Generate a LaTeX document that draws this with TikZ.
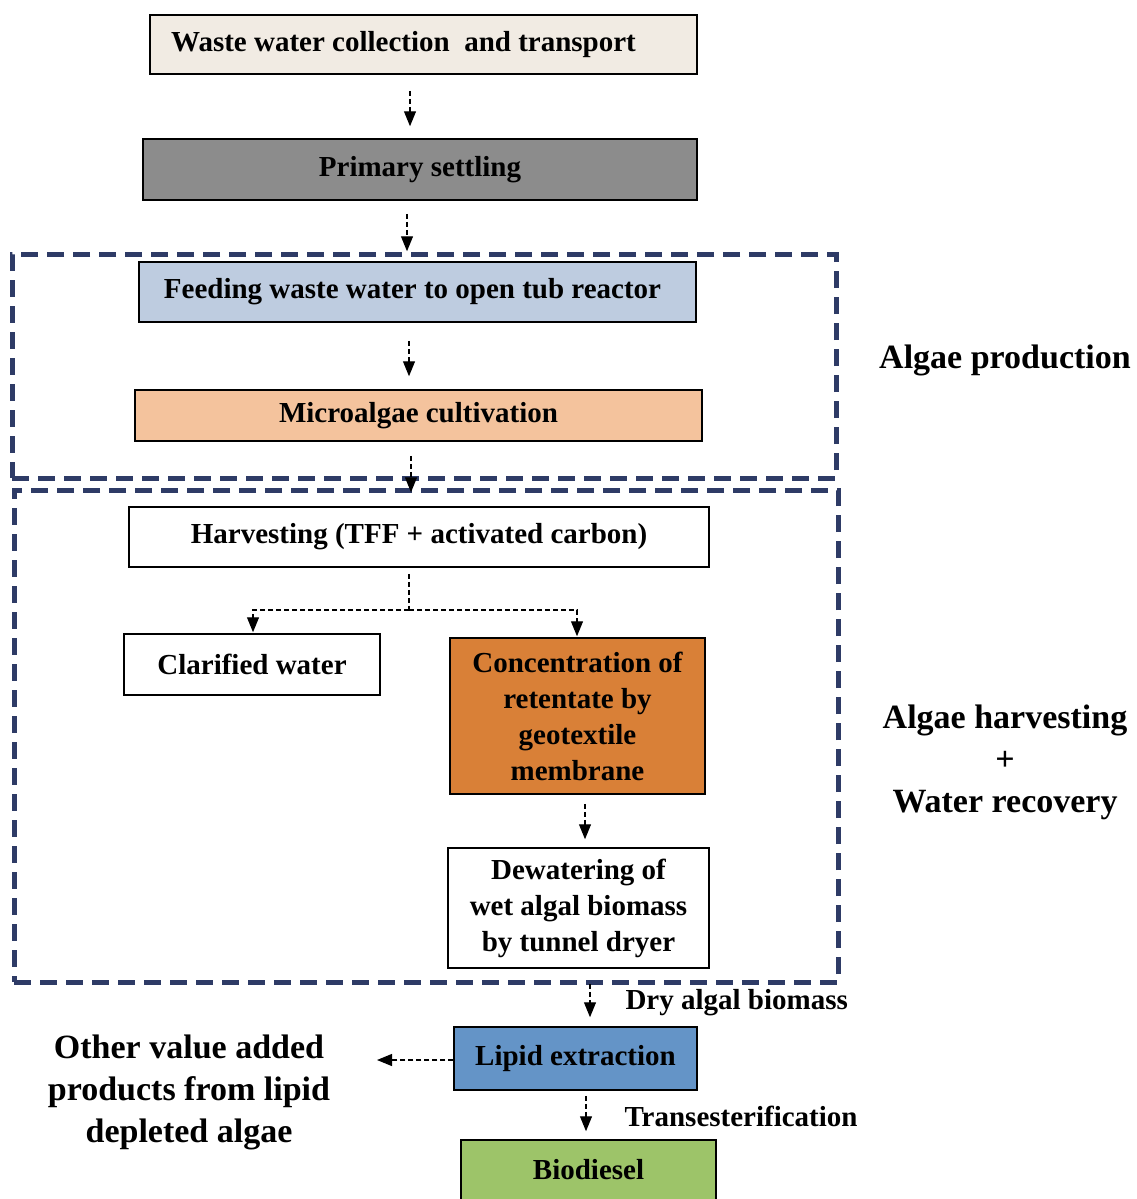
\documentclass[tikz,border=0pt]{standalone}
\usepackage{fontspec}
\setmainfont{Liberation Serif}
\usetikzlibrary{arrows.meta}
\definecolor{navy}{HTML}{2E3B66}
\definecolor{beige}{HTML}{F1EBE3}
\definecolor{gray1}{HTML}{8C8C8C}
\definecolor{paleblue}{HTML}{BECCE0}
\definecolor{peach}{HTML}{F4C39D}
\definecolor{orange1}{HTML}{D98037}
\definecolor{blue1}{HTML}{6494C7}
\definecolor{green1}{HTML}{9DC469}
\begin{document}
\begin{tikzpicture}[x=1pt,y=-1pt,
  box/.style={draw=black, line width=1.5pt, inner sep=0pt, align=center,
    font=\bfseries\fontsize{29}{36}\selectfont},
  group/.style={draw=navy, line width=5pt, dash pattern=on 17pt off 9pt, inner sep=0pt},
  side/.style={align=center, font=\bfseries\fontsize{34}{42}\selectfont},
  lbl/.style={anchor=west, font=\bfseries\fontsize{29}{36}\selectfont},
  dl/.style={dash pattern=on 5pt off 3pt, line width=1.2pt},
  arr/.style={dl, -{Triangle[length=15pt,width=12pt]}}]
\useasboundingbox[fill=white] (0,0) rectangle (1137,1199);

% groups
\node[group, minimum width=824pt, minimum height=224pt] (g1) at (424,366) {};
\node[group, minimum width=824pt, minimum height=492pt] (g2) at (426,736) {};

% boxes
\node[box, fill=beige, minimum width=547pt, minimum height=59pt] (b1) at (423.5,44.5) {Waste water collection\ \ and transport\hspace*{40pt}};
\node[box, fill=gray1, minimum width=554pt, minimum height=61pt] (b2) at (420,169.5) {Primary settling};
\node[box, fill=paleblue, minimum width=557pt, minimum height=60pt] (b3) at (417.5,292) {Feeding waste water to open tub reactor\hspace*{10pt}};
\node[box, fill=peach, minimum width=567pt, minimum height=51pt] (b4) at (418.5,415.5) {Microalgae cultivation};
\node[box, fill=white, minimum width=580pt, minimum height=60pt] (b5) at (419,537) {Harvesting (TFF + activated carbon)};
\node[box, fill=white, minimum width=256pt, minimum height=61pt] (b6) at (252,664.5) {Clarified water};
\node[box, fill=orange1, minimum width=255pt, minimum height=156pt] (b7) at (577.5,716) {Concentration of\\retentate by\\geotextile\\membrane};
\node[box, fill=white, minimum width=261pt, minimum height=120pt] (b8) at (578.5,908) {Dewatering of\\wet algal biomass\\by tunnel dryer};
\node[box, fill=blue1, minimum width=243pt, minimum height=63pt] (b9) at (575.5,1058.5) {Lipid extraction};
\node[box, fill=green1, minimum width=255pt, minimum height=64pt, text depth=0pt] (b10) at (588.5,1172) {\raisebox{5pt}{Biodiesel}};

% side labels
\node[side] (lp) at (1005,360) {Algae production};
\node[side] (lh) at (1005,762) {Algae harvesting\\+\\Water recovery};
\node[side] (ov) at (189,1092) {Other value added\\products from lipid\\depleted algae};
\node[lbl] (ldry) at (622,1003) {Dry algal biomass};
\node[lbl] (ltr) at (621,1116) {Transesterification};

% connectors
\draw[arr, shorten <=16pt, shorten >=12pt] (410,0 |- b1.south) -- (410,0 |- b2.north);
\draw[arr, shorten <=13pt, shorten >=10pt] (407,0 |- b2.south) -- (407,0 |- b3.north);
\draw[arr, shorten <=18pt, shorten >=13pt] (409,0 |- b3.south) -- (409,0 |- b4.north);
\draw[arr, shorten <=14pt, shorten >=14pt] (411,0 |- b4.south) -- (411,0 |- b5.north);
\coordinate (sp) at (409,610);
\draw[dl, shorten <=6pt] (409,0 |- b5.south) -- (sp);
\draw[arr, shorten >=1pt] (sp) -| (253,0 |- b6.north);
\draw[arr, shorten >=1pt] (sp) -| (577,0 |- b7.north);
\draw[arr, shorten <=9pt, shorten >=8pt] (585,0 |- b7.south) -- (585,0 |- b8.north);
\draw[arr, shorten <=15pt, shorten >=9pt] (590,0 |- b8.south) -- (590,0 |- b9.north);
\draw[arr, shorten <=5pt, shorten >=8pt] (586,0 |- b9.south) -- (586,0 |- b10.north);
\coordinate (ovin) at (377,1060);
\draw[arr] (b9.west |- ovin) -- (ovin);
\end{tikzpicture}
\end{document}
